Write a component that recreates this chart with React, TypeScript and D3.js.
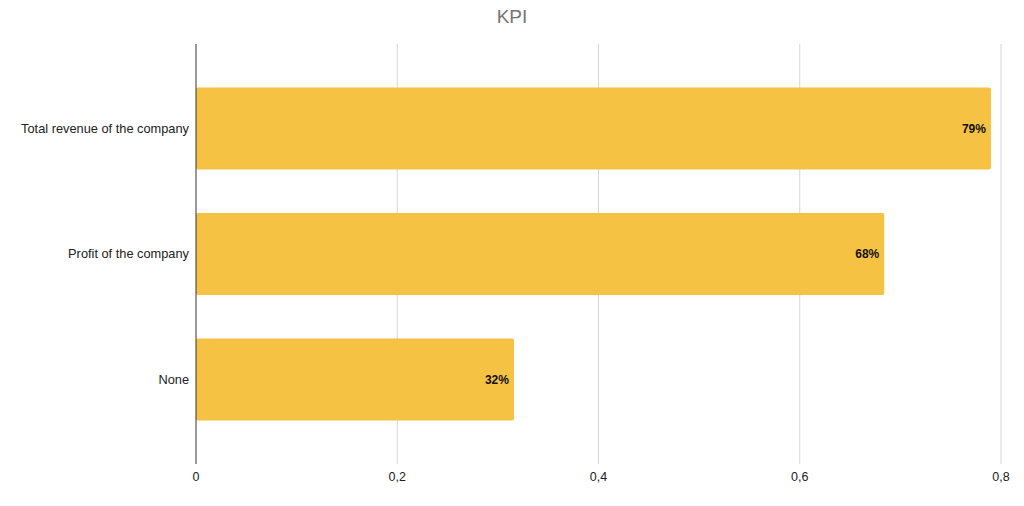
import { useEffect } from "react";
import * as d3 from "d3";

const categories = ["Total revenue of the company", "Profit of the company", "None"];
const values = [0.79, 0.684, 0.316];
const xTicks = [0, 0.2, 0.4, 0.6, 0.8];

const width = 1024;
const height = 506;
const margin = { top: 44, right: 23, bottom: 42, left: 196 };

export default function App() {
  useEffect(() => {
    document.body.style.margin = "0";
  }, []);

  const x = d3
    .scaleLinear()
    .domain([0, 0.8])
    .range([margin.left, width - margin.right]);

  const y = d3
    .scaleBand<string>()
    .domain(categories)
    .range([margin.top, height - margin.bottom])
    .padding(0.347);

  const pct = d3.format(".0%");
  const tickFmt = (v: number) => (v === 0 ? "0" : String(v).replace(".", ","));
  const font = "Liberation Sans, Arial, sans-serif";

  return (
    <svg width={width} height={height} style={{ display: "block", fontFamily: font }}>
      <rect width={width} height={height} fill="#fff" />
      <text x={width / 2} y={23} textAnchor="middle" fontSize={19} fill="#757575">
        KPI
      </text>

      {/* gridlines */}
      {xTicks.slice(1).map((t) => (
        <line
          key={t}
          x1={x(t)}
          x2={x(t)}
          y1={margin.top}
          y2={height - margin.bottom}
          stroke="#d6d6d6"
          strokeWidth={1}
        />
      ))}

      {/* bars */}
      {categories.map((c, i) => (
        <g key={c}>
          <rect
            x={x(0)}
            y={y(c)}
            width={x(values[i]) - x(0)}
            height={y.bandwidth()}
            rx={2}
            fill="#f5c243"
          />
          <text
            x={x(values[i]) - 5}
            y={(y(c) ?? 0) + y.bandwidth() / 2}
            dy="0.35em"
            textAnchor="end"
            fontSize={12}
            fontWeight="bold"
            fill="#111"
          >
            {pct(values[i])}
          </text>
          <text
            x={margin.left - 7}
            y={(y(c) ?? 0) + y.bandwidth() / 2}
            dy="0.35em"
            textAnchor="end"
            fontSize={12.8}
            fill="#222"
          >
            {c}
          </text>
        </g>
      ))}

      {/* zero axis */}
      <line
        x1={x(0)}
        x2={x(0)}
        y1={margin.top}
        y2={height - margin.bottom}
        stroke="#333"
        strokeWidth={1}
      />

      {/* tick labels */}
      {xTicks.map((t) => (
        <text
          key={t}
          x={x(t)}
          y={481}
          textAnchor="middle"
          fontSize={12.5}
          fill="#222"
        >
          {tickFmt(t)}
        </text>
      ))}
    </svg>
  );
}
